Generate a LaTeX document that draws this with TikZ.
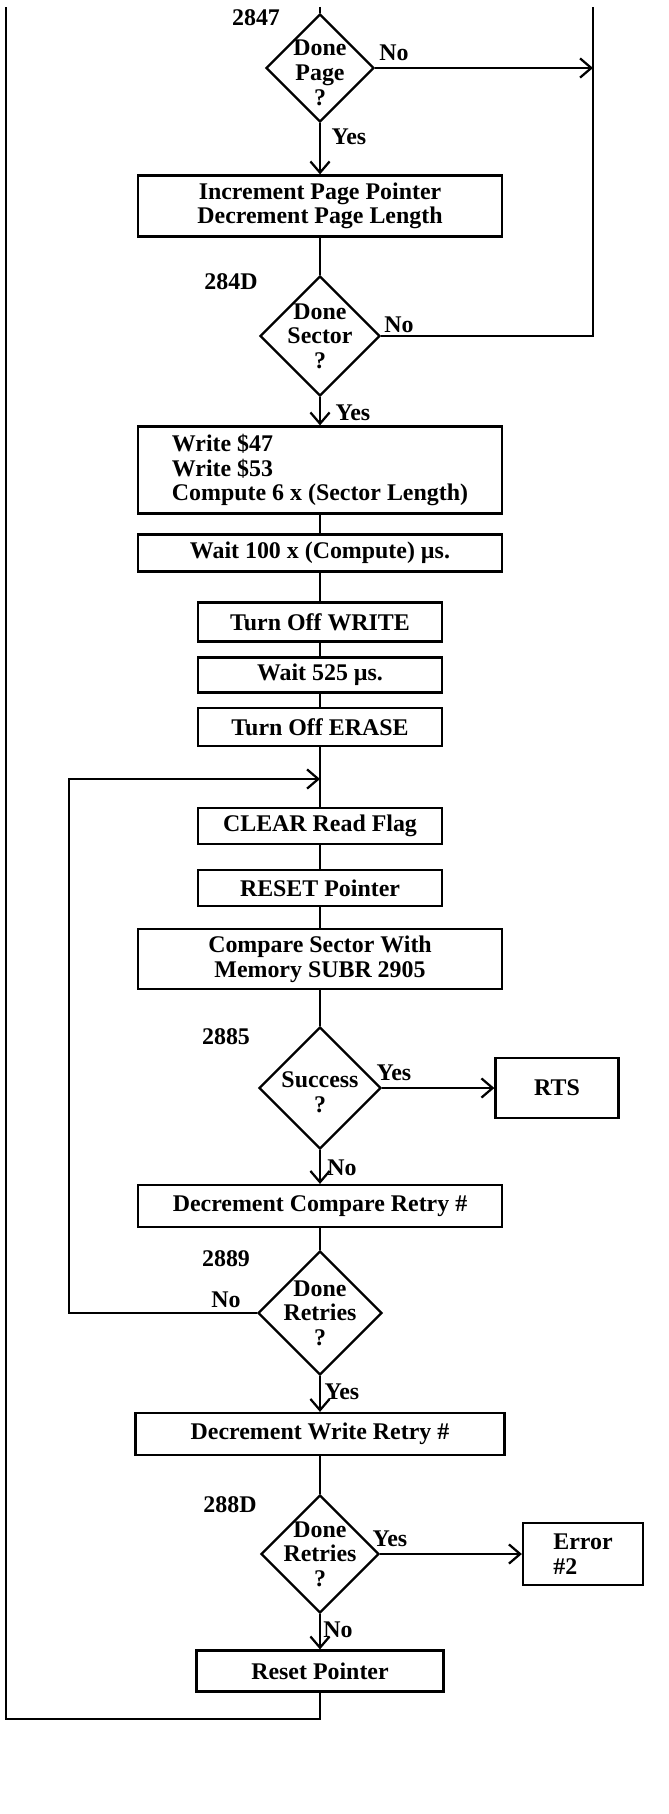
\documentclass[tikz,border=0pt]{standalone}
\usepackage{fontspec}
\setmainfont{Liberation Serif}
\usetikzlibrary{shapes.geometric,arrows.meta}

\begin{document}
\begin{tikzpicture}[x=0.25mm,y=-0.25mm,line width=1.6pt,font=\fontsize{17}{17.5}\selectfont\bfseries,
  >={Straight Barb[length=2.8mm,width=4.8mm]},
  blk/.style={draw,rectangle,inner sep=0pt,align=center},
  wide/.style={blk,minimum width=91mm},
  narrow/.style={blk,minimum width=61mm},
  dec/.style={draw,diamond,inner sep=0pt,minimum width=#1,minimum height=#1}]
\useasboundingbox (0,0) rectangle (668,1814);
\coordinate (intop) at (320,7); \coordinate (ltop) at (6,7); \coordinate (rtop) at (593,7);
\coordinate (bend) at (320,1719); \coordinate (loop) at (69,779); \coordinate (join) at (320,779);
\node[dec=27mm,label={[align=center,yshift=-1.2mm]center:Done\\Page\\?}] (page) at (320,68) {};
\node[wide,minimum height=15.25mm] (incr) at (320,206) {Increment Page Pointer\\Decrement Page Length};
\node[dec=30mm,label={[align=center]center:Done\\Sector\\?}] (sector) at (320,336) {};
\node[wide,minimum height=21.75mm,align=left] (wr) at (320,470) {Write \$47\\Write \$53\\Compute 6 x (Sector Length)};
\node[wide,minimum height=9.25mm] (wait1) at (320,553) {Wait 100 x (Compute) µs.};
\node[narrow,minimum height=9.75mm] (offw) at (320,622) {Turn Off WRITE};
\node[narrow,minimum height=8.75mm] (wait2) at (320,675) {Wait 525 µs.};
\node[narrow,minimum height=9.5mm] (offe) at (320,727) {Turn Off ERASE};
\node[narrow,minimum height=9mm] (clr) at (320,826) {CLEAR Read Flag};
\node[narrow,minimum height=9mm] (rst) at (320,888) {RESET Pointer};
\node[wide,minimum height=15mm] (cmp) at (320,959) {Compare Sector With\\Memory SUBR 2905};
\node[dec=30.5mm,label={[align=center,yshift=-1mm]center:Success\\?}] (succ) at (320,1088) {};
\node[blk,minimum width=30.75mm,minimum height=15mm] (rts) at (557,1088) {RTS};
\node[wide,minimum height=10.5mm] (dcmp) at (320,1206) {Decrement Compare Retry \#};
\node[dec=31mm,label={[align=center]center:Done\\Retries\\?}] (donec) at (320,1313) {};
\node[wide,minimum width=92.25mm,minimum height=10.5mm] (dwr) at (320,1434) {Decrement Write Retry \#};
\node[dec=29.5mm,label={[align=center]center:Done\\Retries\\?}] (donew) at (320,1554) {};
\node[blk,minimum width=30mm,minimum height=15.5mm,align=left] (err) at (583,1554) {Error\\\#2};
\node[narrow,minimum width=61.75mm,minimum height=10.25mm] (rptr) at (320,1671) {Reset Pointer};
\node (l2847) at (256,18) {2847}; \node (l284d) at (231,282) {284D}; \node (l2885) at (226,1037) {2885};
\node (l2889) at (226,1259) {2889}; \node (l288d) at (230,1505) {288D};
\node (pageno) at (394,53) {No}; \node (pageyes) at (349,137) {Yes};
\node (sectno) at (399,325) {No}; \node (sectyes) at (353,413) {Yes};
\node (succyes) at (394,1073) {Yes}; \node (succno) at (342,1168) {No};
\node (doneno) at (226,1300) {No}; \node (doneyes) at (342,1392) {Yes};
\node (wryes) at (390,1539) {Yes}; \node (wrno) at (338,1630) {No};
\draw (intop) -- (page.north);
\draw[->] (page.east) -- (page.east -| rtop);
\draw[->] (page.south) -- (incr.north);
\draw (incr.south) -- (sector.north);
\draw (sector.east) -| (rtop);
\draw[->] (sector.south) -- (wr.north);
\draw (wr.south) -- (wait1.north); \draw (wait1.south) -- (offw.north); \draw (offw.south) -- (wait2.north);
\draw (wait2.south) -- (offe.north); \draw (offe.south) -- (clr.north);
\draw (clr.south) -- (rst.north); \draw (rst.south) -- (cmp.north); \draw (cmp.south) -- (succ.north);
\draw[->] (succ.east) -- (rts.west);
\draw[->] (succ.south) -- (dcmp.north);
\draw (dcmp.south) -- (donec.north);
\draw[->] (donec.west) -| (loop) -- (join);
\draw[->] (donec.south) -- (dwr.north);
\draw (dwr.south) -- (donew.north);
\draw[->] (donew.east) -- (err.west);
\draw[->] (donew.south) -- (rptr.north);
\draw (rptr.south) -- (bend) -| (ltop);
\end{tikzpicture}
\end{document}
